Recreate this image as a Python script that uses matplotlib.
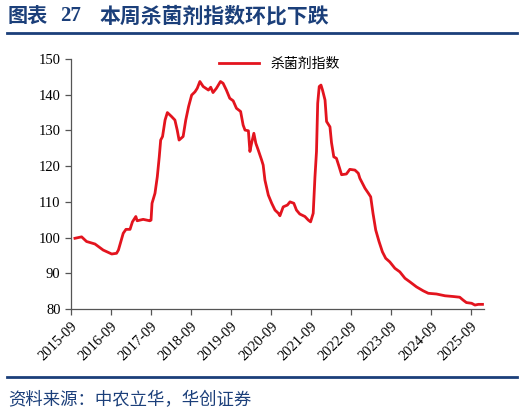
import numpy as np
import pandas as pd
import matplotlib
matplotlib.use("Agg")
import matplotlib.pyplot as plt
import matplotlib.dates as mdates

plt.rcParams['font.family'] = ['Noto Sans CJK SC', 'DejaVu Sans']

# 杀菌剂指数
dates = ["2015-10-07", "2015-12-07", "2016-01-21", "2016-04-07", "2016-06-21",
         "2016-09-07", "2016-10-21", "2016-11-07", "2016-12-21", "2017-01-15",
         "2017-02-21", "2017-03-15", "2017-04-15", "2017-04-27", "2017-06-21",
         "2017-08-21", "2017-09-01", "2017-09-10", "2017-10-07", "2017-10-28",
         "2017-11-15", "2017-11-28", "2017-12-15", "2018-01-07", "2018-01-28",
         "2018-03-07", "2018-04-07", "2018-04-28", "2018-05-15", "2018-06-21",
         "2018-07-15", "2018-08-10", "2018-09-07", "2018-10-07", "2018-10-28",
         "2018-11-21", "2018-12-21", "2019-02-07", "2019-02-28", "2019-03-21",
         "2019-04-21", "2019-05-28", "2019-06-21", "2019-07-21", "2019-08-21",
         "2019-09-21", "2019-10-21", "2019-11-28", "2019-12-21", "2020-01-07",
         "2020-02-07", "2020-02-21", "2020-03-07", "2020-03-28", "2020-04-15",
         "2020-05-07", "2020-06-07", "2020-06-21", "2020-07-07", "2020-08-07",
         "2020-09-07", "2020-10-07", "2020-11-07", "2020-11-21", "2020-12-21",
         "2021-01-28", "2021-02-21", "2021-03-28", "2021-04-21", "2021-05-21",
         "2021-07-07", "2021-08-07", "2021-08-28", "2021-09-21", "2021-10-07",
         "2021-10-21", "2021-11-01", "2021-11-15", "2021-12-01", "2021-12-15",
         "2022-01-07", "2022-01-21", "2022-02-21", "2022-03-07", "2022-03-28",
         "2022-04-21", "2022-05-15", "2022-06-07", "2022-07-21", "2022-08-21",
         "2022-10-07", "2022-11-07", "2022-11-21", "2023-01-07", "2023-02-07",
         "2023-02-28", "2023-03-21", "2023-04-15", "2023-05-15", "2023-06-15",
         "2023-07-15", "2023-08-21", "2023-10-07", "2023-11-21", "2024-01-07",
         "2024-02-21", "2024-04-21", "2024-06-21", "2024-08-07", "2024-10-21",
         "2025-01-07", "2025-03-21", "2025-05-21", "2025-06-21", "2025-07-21",
         "2025-09-07", "2025-10-07", "2025-11-07", "2025-12-15"]
values = [99.8, 100.2, 98.9, 98.2, 96.5,
          95.4, 95.6, 96.5, 101.2, 102.3,
          102.3, 104.4, 105.9, 104.7, 105.1,
          104.7, 104.9, 109.6, 112.4, 117.0,
          122.6, 127.3, 128.3, 132.9, 135.0,
          133.9, 132.9, 130.1, 127.3, 128.3,
          132.9, 136.7, 139.9, 140.8, 141.8,
          143.7, 142.3, 141.3, 142.1, 140.6,
          141.8, 143.7, 143.2, 141.3, 139.0,
          138.3, 136.2, 135.3, 131.5, 130.1,
          129.9, 124.1, 126.4, 129.2, 126.4,
          124.5, 121.7, 120.3, 116.1, 111.9,
          109.6, 107.7, 106.8, 106.1, 108.6,
          109.1, 110.0, 109.6, 107.7, 106.6,
          105.9, 104.9, 104.4, 106.8, 117.0,
          124.1, 137.6, 142.3, 142.7, 141.3,
          138.5, 132.5, 131.0, 126.6, 122.6,
          122.2, 119.9, 117.6, 117.8, 119.1,
          118.9, 118.0, 116.6, 113.8, 112.4,
          111.4, 106.8, 102.1, 98.9, 96.0,
          94.2, 93.2, 91.4, 90.4, 88.6,
          87.6, 86.2, 85.1, 84.4, 84.2,
          83.7, 83.5, 83.3, 82.5, 81.8,
          81.6, 81.1, 81.3, 81.3]
tick_years = list(range(2015, 2026))

source = "资料来源：中农立华，华创证券"
navy = "#1B3F7A"
red = "#E3141E"

x = pd.to_datetime(dates)

fig = plt.figure(figsize=(5.24, 4.12), dpi=100)
ax = fig.add_axes([0.1355, 0.25, 0.788, 0.6068])

ax.plot(x, values, color=red, lw=2.0, label="杀菌剂指数")

ax.set_ylim(80, 150)
ax.set_yticks(np.arange(80, 151, 10))
ax.set_xlim(pd.Timestamp("2015-09-01"), pd.Timestamp("2025-12-28"))
ax.set_xticks([pd.Timestamp(f"{y}-09-01") for y in tick_years])
ax.xaxis.set_major_formatter(mdates.DateFormatter("%Y-%m"))

for s in ["top", "right"]:
    ax.spines[s].set_visible(False)
for s in ["left", "bottom"]:
    ax.spines[s].set_color("#555555")
    ax.spines[s].set_linewidth(0.9)
ax.tick_params(direction="out", length=4, width=0.9, color="#555555")
for lab in ax.get_yticklabels():
    lab.set_family("Liberation Serif")
    lab.set_fontsize(10.5)
for lab in ax.get_xticklabels():
    lab.set_family("Liberation Serif")
    lab.set_fontsize(10.5)
    lab.set_rotation(45)
    lab.set_ha("right")
    lab.set_rotation_mode("anchor")

ax.legend(loc="upper center", bbox_to_anchor=(0.505, 1.06), frameon=False,
          handlelength=2.9, prop={"family": "Noto Sans CJK SC", "size": 10})

# title in three pieces, spaced like the reference
fig.text(8 / 524, 0.962, "图表", color=navy, fontsize=14.5, fontweight="bold",
         va="center", ha="left")
fig.text(60 / 524, 0.960, "27", color=navy, fontsize=15, fontweight="bold",
         family="Liberation Serif", va="center", ha="left")
fig.text(100 / 524, 0.962, "本周杀菌剂指数环比下跌", color=navy, fontsize=15,
         fontweight="bold", va="center", ha="left")
fig.add_artist(plt.Line2D([0.013, 0.987], [0.920, 0.920], color=navy, lw=2))
fig.add_artist(plt.Line2D([0.013, 0.987], [0.085, 0.085], color=navy, lw=2))
fig.text(0.015, 0.028, source, color=navy, fontsize=12.5, va="center", ha="left")

fig.savefig("out.png", dpi=100)
